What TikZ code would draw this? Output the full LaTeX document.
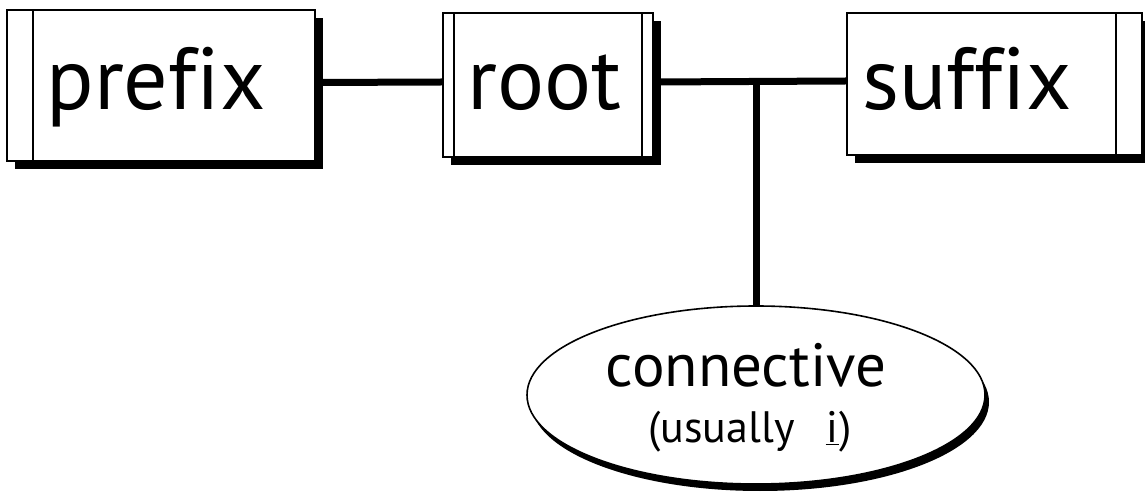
\documentclass[tikz,border=0pt]{standalone}
\usepackage{fontspec}
\setmainfont[Ligatures=NoCommon]{PT Sans}
\usetikzlibrary{shapes.geometric,shadows}
\tikzset{
  boxnode/.style={draw=black, line width=1.6pt, fill=white, inner sep=0pt,
    drop shadow={shadow xshift=8pt, shadow yshift=-8pt, fill=black, opacity=1}},
  boxtext/.style={inner sep=0pt, font=\fontsize{88}{88}\selectfont},
  divider/.style={line width=1.6pt},
  link/.style={line width=7pt},
  ellnode/.style={ellipse, draw=black, line width=1.6pt, fill=white, inner sep=0pt,
    drop shadow={shadow xshift=4pt, shadow yshift=-7pt, fill=black, opacity=1}}
}
\begin{document}
\begin{tikzpicture}[x=1pt,y=1pt]
\useasboundingbox (0,0) rectangle (1145,495);
% boxes
\node[boxnode, minimum width=308pt, minimum height=151pt] (prefix) at (161,409.5) {};
\node[boxnode, minimum width=210pt, minimum height=144pt] (root) at (548,410) {};
\node[boxnode, minimum width=295pt, minimum height=142pt] (suffix) at (994.5,411) {};
% dividers
\draw[divider] ([xshift=27pt]prefix.north west) -- ([xshift=27pt]prefix.south west);
\draw[divider] ([xshift=12pt]root.north west) -- ([xshift=12pt]root.south west);
\draw[divider] ([xshift=-12pt]root.north east) -- ([xshift=-12pt]root.south east);
\draw[divider] ([xshift=-27pt]suffix.north east) -- ([xshift=-27pt]suffix.south east);
% texts
\node[boxtext, anchor=base] (prefixtext) at (156,385) {prefix};
\node[boxtext, anchor=base] (roottext) at (544.5,385) {root};
\node[boxtext, anchor=base] (suffixtext) at (967,385) {suffix};
% ellipse
\node[ellnode, minimum width=458pt, minimum height=178pt] (conn) at (756,100) {};
\node[inner sep=0pt, font=\fontsize{61}{61}\selectfont, anchor=base] (conntext) at (746,108) {connective};
\node[inner sep=0pt, font=\fontsize{44}{44}\selectfont, anchor=base] (usual) at (750,52) {(usually\hspace{0.7em}\underline{\kern1pt i\kern1pt})};
% connectors
\coordinate (junction) at ([yshift=3pt]conn.north |- root.east);
\draw[link] ([yshift=3pt]prefix.east) -- ([yshift=3pt]root.west);
\draw[link] ([yshift=3pt]root.east) -- ([yshift=3pt]suffix.west);
\draw[link] (junction) -- (conn.north);
\end{tikzpicture}
\end{document}
